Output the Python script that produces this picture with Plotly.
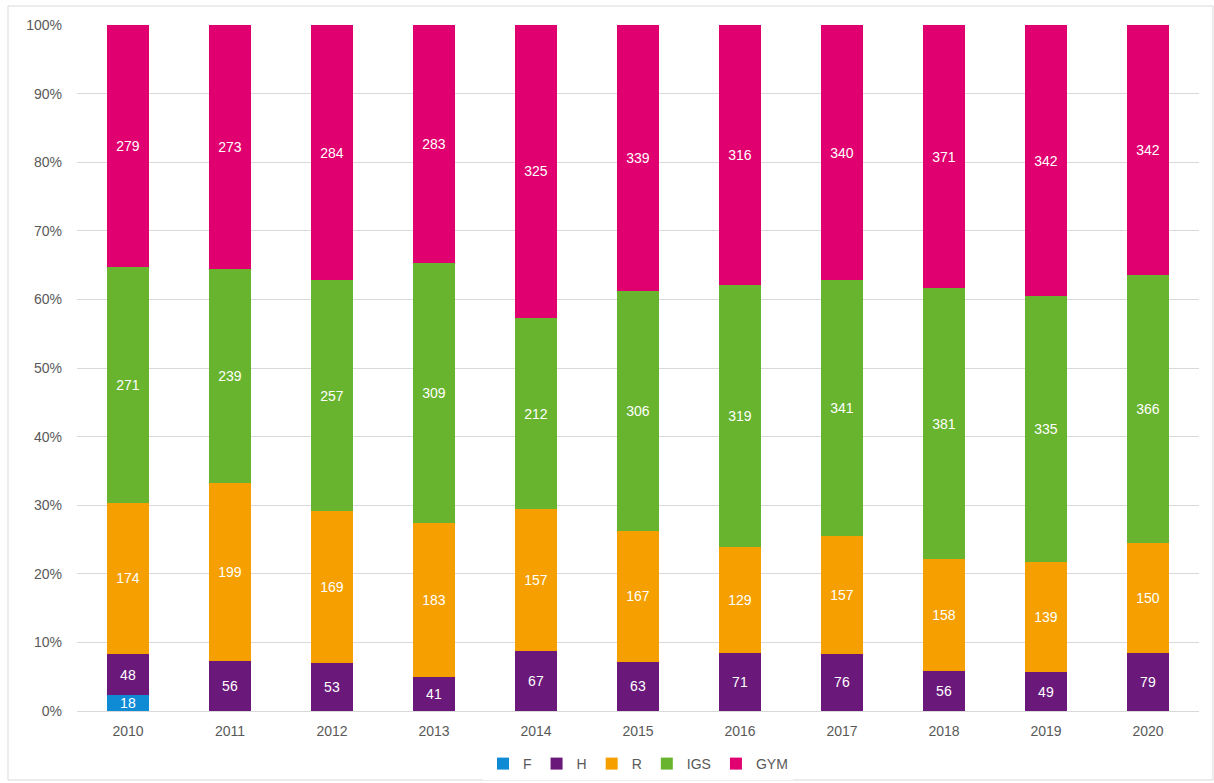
import plotly.graph_objects as go

years = ["2010", "2011", "2012", "2013", "2014", "2015", "2016", "2017", "2018", "2019", "2020"]
f_vals = [18, 0, 0, 0, 0, 0, 0, 0, 0, 0, 0]
h_vals = [48, 56, 53, 41, 67, 63, 71, 76, 56, 49, 79]
r_vals = [174, 199, 169, 183, 157, 167, 129, 157, 158, 139, 150]
igs_vals = [271, 239, 257, 309, 212, 306, 319, 341, 381, 335, 366]
gym_vals = [279, 273, 284, 283, 325, 339, 316, 340, 371, 342, 342]

series = [
    ("F", f_vals, "#0F8BD6"),
    ("H", h_vals, "#6A197B"),
    ("R", r_vals, "#F5A000"),
    ("IGS", igs_vals, "#69B42E"),
    ("GYM", gym_vals, "#E0006F"),
]

FONT = "Liberation Sans, Arial, sans-serif"

fig = go.Figure()
for name, vals, color in series:
    labels = [str(v) if v > 0 else "" for v in vals]
    fig.add_trace(go.Bar(
        name=name,
        x=years,
        y=vals,
        marker=dict(color=color, line=dict(width=0)),
        text=labels,
        textposition="inside",
        insidetextanchor="middle",
        textangle=0,
        constraintext="none",
        textfont=dict(color="white", size=14, family=FONT),
        hoverinfo="skip",
    ))

# light frame around the whole chart area
plot_l, plot_r, plot_t, plot_b = 77, 1199, 25, 711
pw, ph = plot_r - plot_l, plot_b - plot_t
fig.add_shape(
    type="rect", xref="paper", yref="paper",
    x0=(8 - plot_l) / pw, x1=(1213 - plot_l) / pw,
    y0=(plot_b - 780) / ph, y1=(plot_b - 6) / ph,
    line=dict(color="#D9D9D9", width=1), fillcolor="rgba(0,0,0,0)", layer="below",
)

fig.update_layout(
    barmode="stack",
    barnorm="percent",
    bargap=0.595,
    width=1214,
    height=783,
    margin=dict(l=plot_l, r=1214 - plot_r, t=plot_t, b=783 - plot_b, autoexpand=False),
    paper_bgcolor="white",
    plot_bgcolor="white",
    font=dict(family=FONT, color="#595959", size=14),
    legend=dict(
        orientation="h",
        x=0.5, xanchor="center",
        yref="container",
        y=(783 - 764) / 783, yanchor="middle",
        font=dict(size=14, color="#595959"),
        itemwidth=30,
        traceorder="normal",
    ),
    uniformtext=dict(minsize=8, mode="show"),
)
fig.update_yaxes(
    range=[0, 100],
    tickvals=list(range(0, 101, 10)),
    ticktext=[f"{v}%" for v in range(0, 101, 10)],
    showgrid=True, gridcolor="#D9D9D9", gridwidth=1,
    zeroline=False, showline=False,
    ticks="", ticklabelstandoff=14,
    tickfont=dict(size=14, color="#595959"),
)
fig.update_xaxes(
    showgrid=False, showline=True, linecolor="#D9D9D9", linewidth=1,
    ticks="", ticklabelstandoff=7,
    tickfont=dict(size=14, color="#595959"),
)

fig.write_html("out.html")
